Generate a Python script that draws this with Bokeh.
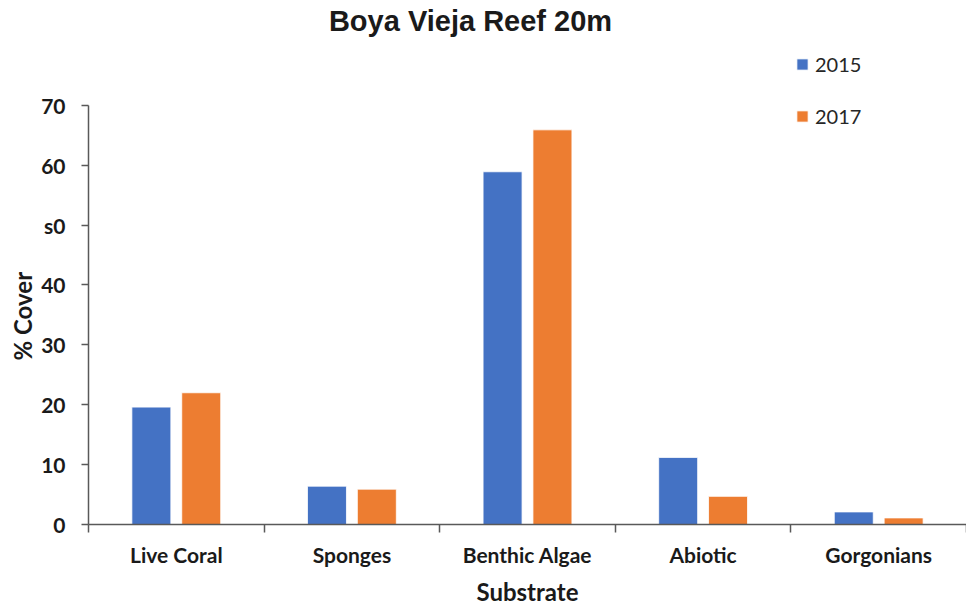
from bokeh.plotting import figure
from bokeh.models import Range1d, FixedTicker, Label, Legend, LegendItem, Title
from bokeh.embed import file_html
from bokeh.resources import INLINE

categories = ["Live Coral", "Sponges", "Benthic Algae", "Abiotic", "Gorgonians"]
years = ["2015", "2017"]
cover_2015 = [19.6, 6.4, 58.9, 11.2, 2.1]
cover_2017 = [22.0, 5.9, 65.9, 4.7, 1.1]
y_ticks = [0, 10, 20, 30, 40, 50, 60, 70]
y_tick_labels = ["0", "10", "20", "30", "40", "s0", "60", "70"]

BLUE = "#4472C4"
ORANGE = "#ED7D31"
AXIS = "#595959"

# frame spans the full height above the axis so title/legend fit inside it;
# the y axis line itself is bounded to 0..70
p = figure(width=966, height=608, output_backend="svg", toolbar_location=None,
           title=None,
           x_range=Range1d(0, len(categories)), y_range=Range1d(0, 87.5),
           min_border_left=88, min_border_right=0, min_border_top=0, min_border_bottom=84)
p.outline_line_color = None
p.xgrid.visible = False
p.ygrid.visible = False

centers = [i + 0.5 for i in range(len(categories))]
off = 0.142
bw = 0.222
r1 = p.vbar(x=[c - off for c in centers], top=cover_2015, width=bw, bottom=0,
            fill_color=BLUE, line_color="white", line_width=0.8)
r2 = p.vbar(x=[c + off for c in centers], top=cover_2017, width=bw, bottom=0,
            fill_color=ORANGE, line_color="white", line_width=0.8)

# x axis
xa = p.xaxis[0]
xa.ticker = FixedTicker(ticks=centers, minor_ticks=list(range(len(categories) + 1)))
xa.major_label_overrides = {c: name for c, name in zip(centers, categories)}
xa.major_tick_out = 0
xa.major_tick_in = 0
xa.minor_tick_out = 8
xa.minor_tick_in = 0
xa.minor_tick_line_color = AXIS
xa.minor_tick_line_width = 1.5
xa.axis_line_color = AXIS
xa.axis_line_width = 1.5
xa.major_label_standoff = 9
xa.major_label_text_font = "Lato"
xa.major_label_text_font_style = "bold"
xa.major_label_text_font_size = "21px"
xa.major_label_text_color = "#1a1a1a"
xa.axis_label = "Substrate"
xa.axis_label_text_font = "Lato"
xa.axis_label_text_font_style = "bold"
xa.axis_label_text_font_size = "24px"
xa.axis_label_text_color = "#1a1a1a"
xa.axis_label_standoff = 7

# y axis
ya = p.yaxis[0]
ya.ticker = FixedTicker(ticks=y_ticks, minor_ticks=[])
ya.bounds = (0, 70)
ya.major_label_overrides = {t: lab for t, lab in zip(y_ticks, y_tick_labels)}
ya.major_tick_out = 7
ya.major_tick_in = 0
ya.major_tick_line_color = AXIS
ya.major_tick_line_width = 1.5
ya.axis_line_color = AXIS
ya.axis_line_width = 1.5
ya.major_label_standoff = 16
ya.major_label_text_font = "Lato"
ya.major_label_text_font_style = "bold"
ya.major_label_text_font_size = "21px"
ya.major_label_text_color = "#1a1a1a"

# y axis title in the left panel, centred on the 0..70 span of the axis
ylab = Title(text="% Cover", align="left", offset=164, vertical_align="middle",
             text_font="Lato", text_font_style="bold", text_font_size="24px",
             text_color="#1a1a1a", standoff=2)
p.add_layout(ylab, "left")

# title
title = Label(x=382, y=504, x_units="screen", y_units="screen",
              text="Boya Vieja Reef 20m", text_font="Liberation Sans",
              text_font_style="bold", text_font_size="29px", text_color="#1a1a1a",
              text_align="center", text_baseline="middle")
p.add_layout(title)

legend = Legend(items=[LegendItem(label=years[0], renderers=[r1]),
                       LegendItem(label=years[1], renderers=[r2])],
                location=(707, 396), orientation="vertical",
                glyph_width=14, glyph_height=14, label_height=20, spacing=28,
                label_standoff=6, padding=0, margin=0,
                label_text_font="Lato", label_text_font_size="20px",
                label_text_color="#262626",
                border_line_color=None, background_fill_alpha=0)
p.add_layout(legend, "center")

open("out.html", "w").write(file_html(p, INLINE))
